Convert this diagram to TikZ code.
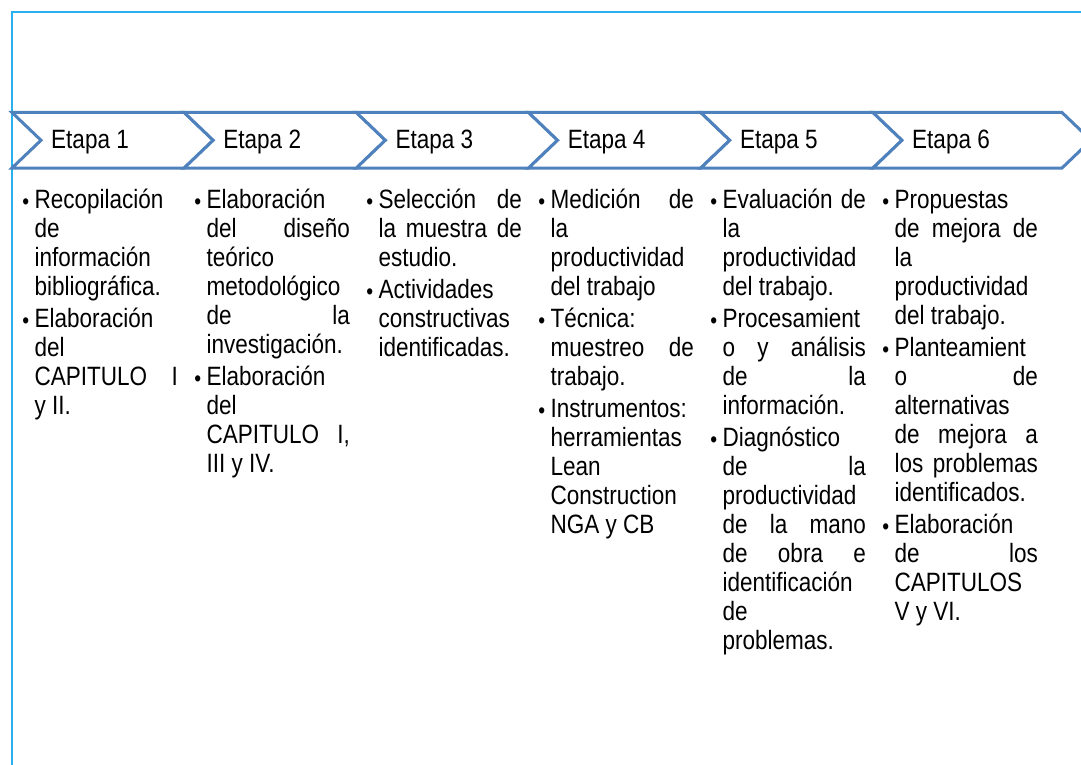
\documentclass[tikz,border=0pt]{standalone}
\usepackage{fontspec}
\setmainfont{Liberation Sans}[FakeStretch=0.85]
\definecolor{framecol}{HTML}{29B0EE}
\definecolor{chevcol}{HTML}{4F81BD}
\newcommand\J[1]{\hbox to\hsize{\spaceskip=.25em plus 1fil minus .1em\relax #1}}
\newcommand\Lf[1]{\hbox to\hsize{#1\hfil}}
\newcommand\bul{\llap{\makebox[0pt]{\raisebox{-1.6pt}{\fontsize{23}{23}\selectfont\textbullet}}\hskip8.8pt}}
\newcommand\gap{\vskip3pt}
\newcommand\colbox[1]{\vtop{\hsize=143.5pt\baselineskip=29pt\lineskiplimit=-100pt\lineskip=0pt #1}}
\tikzset{
  framestyle/.style={draw=framecol,line width=2pt},
  chev/.style={draw=chevcol,fill=white,line width=3pt},
  lab/.style={inner sep=0pt,anchor=base west,font=\fontsize{26.5}{29}\selectfont},
  colnode/.style={inner sep=0pt,anchor=base west,font=\fontsize{26.5}{29}\selectfont}
}
\begin{document}
\begin{tikzpicture}[x=1pt,y=-1pt]
\useasboundingbox (0,0) rectangle (1081,765);
\fill[white] (0,0) rectangle (1081,765);
\coordinate (fb) at (11.5,765);
\coordinate (ftl) at (11.5,12.5);
\coordinate (ftr) at (1081,12.5);
\draw[framestyle] (fb) -- (ftl) -- (ftr);
\foreach \i/\l/\r in {1/12/184.2,2/184.2/356.4,3/356.4/528.6,4/528.6/700.8,5/700.8/873,6/873/1062}{
  \draw[chev] (\l,112.5) -- (\r,112.5) -- (\r+29,140.25) -- (\r,168) -- (\l,168) -- (\l+29,140.25) -- cycle;
}
\node[lab] (e1) at (51,148) {Etapa 1};
\node[lab] (e2) at (223.2,148) {Etapa 2};
\node[lab] (e3) at (395.4,148) {Etapa 3};
\node[lab] (e4) at (567.6,148) {Etapa 4};
\node[lab] (e5) at (739.8,148) {Etapa 5};
\node[lab] (e6) at (912,148) {Etapa 6};

\node[colnode] (c1) at (34.3,208) {\colbox{%
\Lf{\bul Recopilación}
\Lf{de}
\Lf{información}
\Lf{bibliográfica.}
\gap
\Lf{\bul Elaboración}
\Lf{del}
\J{CAPITULO I}
\Lf{y II.}}};

\node[colnode] (c2) at (206.3,208) {\colbox{%
\Lf{\bul Elaboración}
\J{del diseño}
\Lf{teórico}
\Lf{metodológico}
\J{de la}
\Lf{investigación.}
\gap
\Lf{\bul Elaboración}
\Lf{del}
\J{CAPITULO I,}
\Lf{III y IV.}}};

\node[colnode] (c3) at (378.3,208) {\colbox{%
\J{\bul Selección de}
\J{la muestra de}
\Lf{estudio.}
\gap
\Lf{\bul Actividades}
\Lf{constructivas}
\Lf{identificadas.}}};

\node[colnode] (c4) at (550.3,208) {\colbox{%
\J{\bul Medición de}
\Lf{la}
\Lf{productividad}
\Lf{del trabajo}
\gap
\Lf{\bul Técnica:}
\J{muestreo de}
\Lf{trabajo.}
\gap
\Lf{\bul Instrumentos:}
\Lf{herramientas}
\Lf{Lean}
\Lf{Construction}
\Lf{NGA y CB}}};

\node[colnode] (c5) at (722.3,208) {\colbox{%
\J{\bul Evaluación de}
\Lf{la}
\Lf{productividad}
\Lf{del trabajo.}
\gap
\Lf{\bul Procesamient}
\J{o y análisis}
\J{de la}
\Lf{información.}
\gap
\Lf{\bul Diagnóstico}
\J{de la}
\Lf{productividad}
\J{de la mano}
\J{de obra e}
\Lf{identificación}
\Lf{de}
\Lf{problemas.}}};

\node[colnode] (c6) at (894.3,208) {\colbox{%
\Lf{\bul Propuestas}
\J{de mejora de}
\Lf{la}
\Lf{productividad}
\Lf{del trabajo.}
\gap
\Lf{\bul Planteamient}
\J{o de}
\Lf{alternativas}
\J{de mejora a}
\J{los problemas}
\Lf{identificados.}
\gap
\Lf{\bul Elaboración}
\J{de los}
\Lf{CAPITULOS}
\Lf{V y VI.}}};
\end{tikzpicture}
\end{document}
